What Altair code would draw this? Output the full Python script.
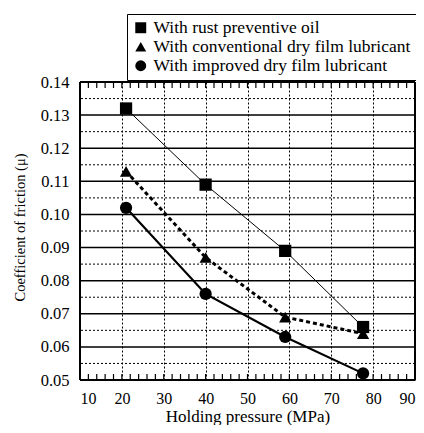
import altair as alt
import pandas as pd

series = [
    "With rust preventive oil",
    "With conventional dry film lubricant",
    "With improved dry film lubricant",
]
shapes = ["square", "triangle-up", "circle"]
pressure = [21, 40, 59, 77.6]
rust = [0.132, 0.109, 0.089, 0.066]
conv = [0.113, 0.087, 0.069, 0.064]
impr = [0.102, 0.076, 0.063, 0.052]

x_ticks = [10, 20, 30, 40, 50, 60, 70, 80, 90]
x_minor = [v for v in range(12, 90, 2) if v % 10 != 0]
y_major = [0.05, 0.06, 0.07, 0.08, 0.09, 0.10, 0.11, 0.12, 0.13, 0.14]
y_minor = [0.055, 0.065, 0.075, 0.085, 0.095, 0.105, 0.115, 0.125, 0.135]

rows = []
for name, vals in zip(series, [rust, conv, impr]):
    for p, v in zip(pressure, vals):
        rows.append({"series": name, "pressure": p, "mu": v})
df = pd.DataFrame(rows)

FONT = "Liberation Serif"
xscale = alt.Scale(domain=[10, 90], nice=False)
yscale = alt.Scale(domain=[0.05, 0.14], nice=False, zero=False)

x_axis = alt.Axis(
    values=x_ticks, grid=True, gridDash=[2, 2], gridColor="black", gridWidth=1,
    gridOpacity=1, ticks=False, domain=False, labelOverlap=False,
    labelFont=FONT, labelFontSize=16,
    labelColor="black", labelPadding=10, title="Holding pressure (MPa)",
    titleFont=FONT, titleFontSize=17, titleFontWeight="normal", titleColor="black",
    titleY=36, titleBaseline="middle",
)
y_axis = alt.Axis(
    values=y_major, format=".2f", grid=False, ticks=False, domain=False,
    labelOverlap=False, labelFont=FONT, labelFontSize=16.5,
    labelColor="black", labelPadding=11, title="Coefficient of friction (μ)",
    titleFont=FONT, titleFontSize=14.5, titleFontWeight="normal", titleColor="black",
    titleX=-60, titleY=145, titleAngle=-90, titleAlign="center", titleBaseline="middle",
)

def X(field):
    return alt.X(field, scale=xscale, axis=x_axis)

def Y(field):
    return alt.Y(field, scale=yscale, axis=y_axis)

base = alt.Chart(df)

minor_rules = alt.Chart(pd.DataFrame({"v": y_minor})).mark_rule(
    color="black", strokeDash=[2, 2], strokeWidth=1
).encode(y=Y("v:Q"))

major_rules = alt.Chart(pd.DataFrame({"v": y_major})).mark_rule(
    color="black", strokeWidth=1.5
).encode(y=Y("v:Q"))

frame_h = alt.Chart(pd.DataFrame({"v": [0.05, 0.14]})).mark_rule(
    color="black", strokeWidth=2
).encode(y=Y("v:Q"))

frame_v = alt.Chart(pd.DataFrame({"v": [10, 90]})).mark_rule(
    color="black", strokeWidth=2
).encode(x=X("v:Q"))

tick_df = pd.DataFrame({"v": x_minor + x_ticks})
bottom_ticks = alt.Chart(tick_df).mark_tick(
    color="black", orient="vertical", size=6, thickness=1.2, yOffset=-3, opacity=1
).encode(x=X("v:Q"), y=alt.datum(0.05, scale=yscale, axis=y_axis))

top_ticks = alt.Chart(tick_df).mark_tick(
    color="black", orient="vertical", size=6, thickness=1.2, yOffset=3, opacity=1
).encode(x=X("v:Q"), y=alt.datum(0.14, scale=yscale, axis=y_axis))

def line(name, width, dash, interp):
    kw = dict(color="black", strokeWidth=width, interpolate=interp)
    if dash:
        kw["strokeDash"] = dash
    return base.transform_filter(alt.datum.series == name).mark_line(**kw).encode(
        x=X("pressure:Q"), y=Y("mu:Q"),
    )

l1 = line(series[0], 1, None, "linear")
l2 = line(series[1], 3, [4, 3], "linear")
l3 = line(series[2], 2.2, None, "linear")

points = base.mark_point(filled=True, color="black", opacity=1, size=150).encode(
    x=X("pressure:Q"),
    y=Y("mu:Q"),
    shape=alt.Shape(
        "series:N",
        scale=alt.Scale(domain=series, range=shapes),
        legend=alt.Legend(
            title=None, orient="none", legendX=47, legendY=-68,
            labelFont=FONT, labelFontSize=17.5, labelColor="black",
            symbolFillColor="black", symbolStrokeColor="black", symbolSize=120,
            symbolStrokeWidth=0, rowPadding=0, padding=5,
            strokeColor="black", labelLimit=400,
        ),
    ),
)

chart = alt.layer(
    minor_rules, major_rules, bottom_ticks, top_ticks, frame_h, frame_v,
    l1, l2, l3, points
).properties(
    width=335, height=298,
    autosize=alt.AutoSizeParams(type="none"),
    padding={"left": 72, "top": 74, "right": 1, "bottom": 45},
).configure_view(stroke="black", strokeWidth=2).configure(background="white")

chart.save("out.html", embed_options={"renderer": "svg", "actions": False})
